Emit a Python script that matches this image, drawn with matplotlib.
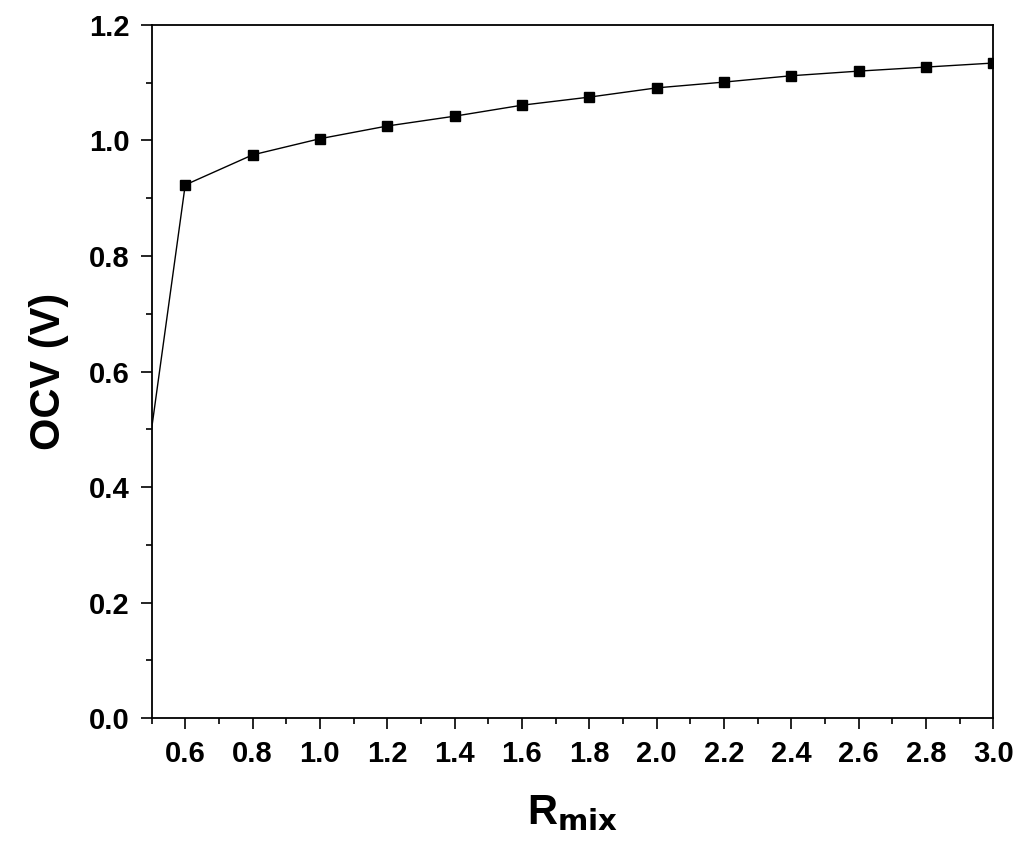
import matplotlib.pyplot as plt
from matplotlib.ticker import MultipleLocator

plt.rcParams['font.family'] = ['Liberation Sans', 'DejaVu Sans']

r_mix = [0.5, 0.6, 0.8, 1.0, 1.2, 1.4, 1.6, 1.8, 2.0, 2.2, 2.4, 2.6, 2.8, 3.0]
ocv = [0.50, 0.923, 0.975, 1.003, 1.025, 1.042, 1.061, 1.075, 1.091, 1.101,
       1.112, 1.120, 1.127, 1.134]

fig = plt.figure(figsize=(10.24, 8.59), dpi=100)
ax = fig.add_axes([0.148, 0.164, 0.822, 0.807])
ax.plot(r_mix, ocv, color='black', lw=1, marker='s', markersize=7,
        markevery=list(range(1, len(r_mix))))

ax.set_xlim(0.5, 3.0)
ax.set_ylim(0.0, 1.2)
ax.set_xticks([0.6, 0.8, 1.0, 1.2, 1.4, 1.6, 1.8, 2.0, 2.2, 2.4, 2.6, 2.8, 3.0])
ax.xaxis.set_minor_locator(MultipleLocator(0.1))
ax.yaxis.set_major_locator(MultipleLocator(0.2))
ax.yaxis.set_minor_locator(MultipleLocator(0.1))
ax.tick_params(which='major', direction='out', length=8, width=1.2, labelsize=21, pad=8)
ax.tick_params(which='minor', direction='out', length=4, width=1.2)
for lab in ax.get_xticklabels() + ax.get_yticklabels():
    lab.set_fontweight('bold')
for s in ax.spines.values():
    s.set_linewidth(1.3)

ax.set_xlabel('R$_{\\mathbf{mix}}$', fontsize=30, fontweight='bold', labelpad=18)
ax.set_ylabel('OCV (V)', fontsize=30, fontweight='bold', labelpad=14)

fig.savefig('out.png', dpi=100)
